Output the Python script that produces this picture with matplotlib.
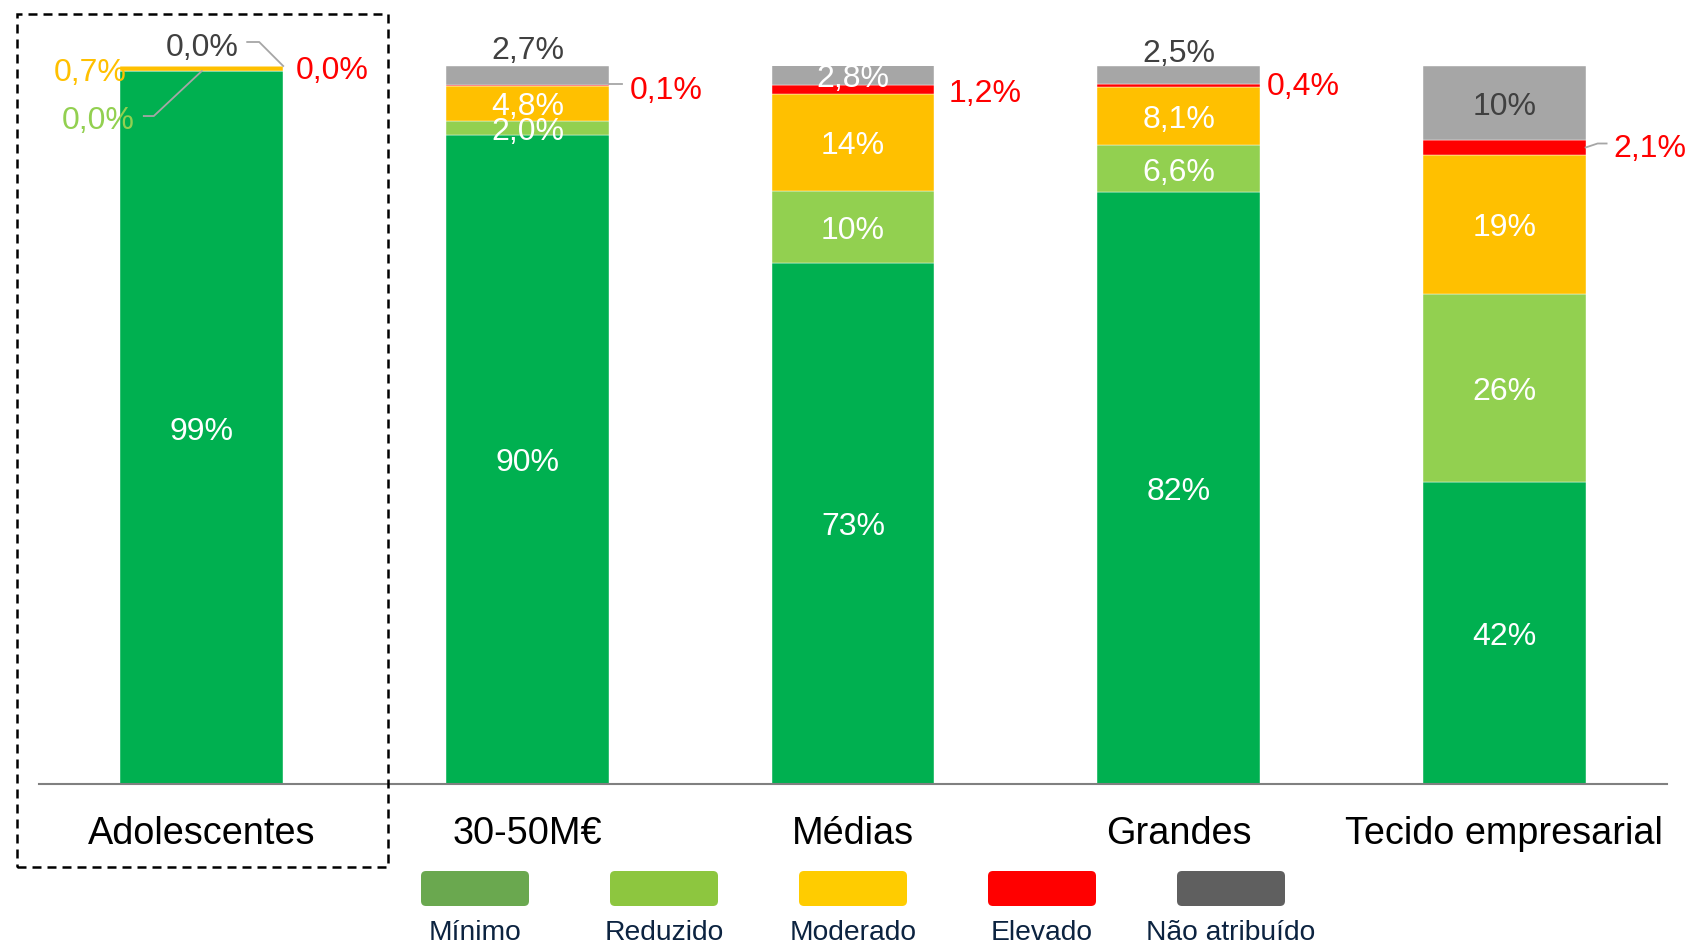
import matplotlib.pyplot as plt
import matplotlib.transforms as mtransforms
from matplotlib.patches import FancyBboxPatch, Rectangle
from matplotlib.lines import Line2D

plt.rcParams['font.family'] = ['Liberation Sans', 'DejaVu Sans']

categories = ['Adolescentes', '30-50M€', 'Médias', 'Grandes', 'Tecido empresarial']
series = ['Mínimo', 'Reduzido', 'Moderado', 'Elevado', 'Não atribuído']
minimo = [99.3, 90.4, 72.6, 82.4, 42.1]
reduzido = [0.0, 2.0, 10.0, 6.6, 26.2]
moderado = [0.7, 4.8, 13.5, 8.1, 19.3]
elevado = [0.0, 0.1, 1.2, 0.4, 2.1]
nao_atribuido = [0.0, 2.7, 2.8, 2.5, 10.3]
values = [minimo, reduzido, moderado, elevado, nao_atribuido]

bar_colors = ['#00B050', '#92D050', '#FFC000', '#FF0000', '#A6A6A6']
legend_colors = ['#6AA84F', '#8DC63F', '#FFCC00', '#FF0000', '#5F5F5F']
out_colors = ['#00B050', '#92D050', '#FFC000', '#FF0000', '#404040']


def fmt(v):
    if v >= 10:
        return f'{v:.0f}%'
    return f'{v:.1f}'.replace('.', ',') + '%'


# labels drawn outside the bars: (cat, series) -> anchor, text offset px, leader px
outside = {
    (0, 4): ('rt', (-81, 22), [(-36, 24), (-24, 24), (0, 0)]),
    (0, 2): ('lm', (-30, 0), None),
    (0, 3): ('rt', (49, -1), None),
    (0, 1): ('cb', (-104, -46), [(-58, -45), (-48, -45), (0, 0)]),
    (1, 4): ('ct', (0, 19), None),
    (1, 3): ('rm', (57, -1), [(0, 2), (13, 2)]),
    (2, 3): ('rm', (51, 0), None),
    (3, 4): ('ct', (0, 16), None),
    (3, 3): ('rm', (43, 2), None),
    (4, 3): ('rm', (64, 2), [(0, 0), (12, 4), (21, 4)]),
}
dark_inside = {(4, 4)}
shift = -4  # text baseline correction, px

fig = plt.figure(figsize=(16.89, 9.43), dpi=100)
ax = fig.add_axes([39 / 1689, 1 - 784 / 943, 1628 / 1689, 718 / 943])
width = 0.5
x = list(range(len(categories)))

bottoms = [0.0] * len(categories)
for s in range(len(series)):
    ax.bar(x, values[s], width, bottom=bottoms, color=bar_colors[s],
           edgecolor='white', linewidth=0.3)
    for i in x:
        v = values[s][i]
        b = bottoms[i]
        if (i, s) in outside:
            anc, (dx, dy), leader = outside[(i, s)]
            ax_x = {'r': i + width / 2, 'l': i - width / 2, 'c': i}[anc[0]]
            ax_y = {'t': b + v, 'm': b + v / 2, 'b': b}[anc[1]]
            ax.annotate(fmt(v), xy=(ax_x, ax_y), xytext=(dx, dy + shift),
                        textcoords='offset pixels', ha='center', va='center',
                        fontsize=23, color=out_colors[s], annotation_clip=False)
            if leader:
                tr = mtransforms.IdentityTransform() + \
                    mtransforms.ScaledTranslation(ax_x, ax_y, ax.transData)
                ax.add_line(Line2D([p[0] for p in leader], [p[1] for p in leader],
                                   transform=tr, color='#A6A6A6', lw=1.3,
                                   clip_on=False))
        else:
            col = '#404040' if (i, s) in dark_inside else 'white'
            ax.annotate(fmt(v), xy=(i, b + v / 2), xytext=(0, shift),
                        textcoords='offset pixels', ha='center', va='center',
                        fontsize=23, color=col)
        bottoms[i] = b + v

ax.set_xlim(-0.5, 4.5)
ax.set_ylim(0, 100)
for sp in ['top', 'right', 'left']:
    ax.spines[sp].set_visible(False)
ax.spines['bottom'].set_color('#808080')
ax.spines['bottom'].set_linewidth(1.5)
ax.set_xticks([])
ax.set_yticks([])
for i, c in enumerate(categories):
    ax.text(i, -50 / 718, c, transform=ax.get_xaxis_transform(),
            ha='center', va='center', fontsize=27.3, color='black')

# dashed box around first category
fig.patches.append(Rectangle((17 / 100, 76 / 100), 371 / 100, 853 / 100,
                             transform=fig.dpi_scale_trans, fill=False,
                             edgecolor='black', lw=1.8, linestyle=(0, (3.6, 2.4))))

# legend
for k, name in enumerate(series):
    cx = 475 + k * 189
    fig.patches.append(FancyBboxPatch(((cx - 54) / 100, 37 / 100), 108 / 100, 35 / 100,
                                      boxstyle='round,pad=0,rounding_size=0.05',
                                      transform=fig.dpi_scale_trans,
                                      facecolor=legend_colors[k], edgecolor='none'))
    fig.text(cx / 1689, 10 / 943, name, ha='center', va='center',
             fontsize=20.3, color='#0C2340')

fig.savefig('out.png', dpi=100)
